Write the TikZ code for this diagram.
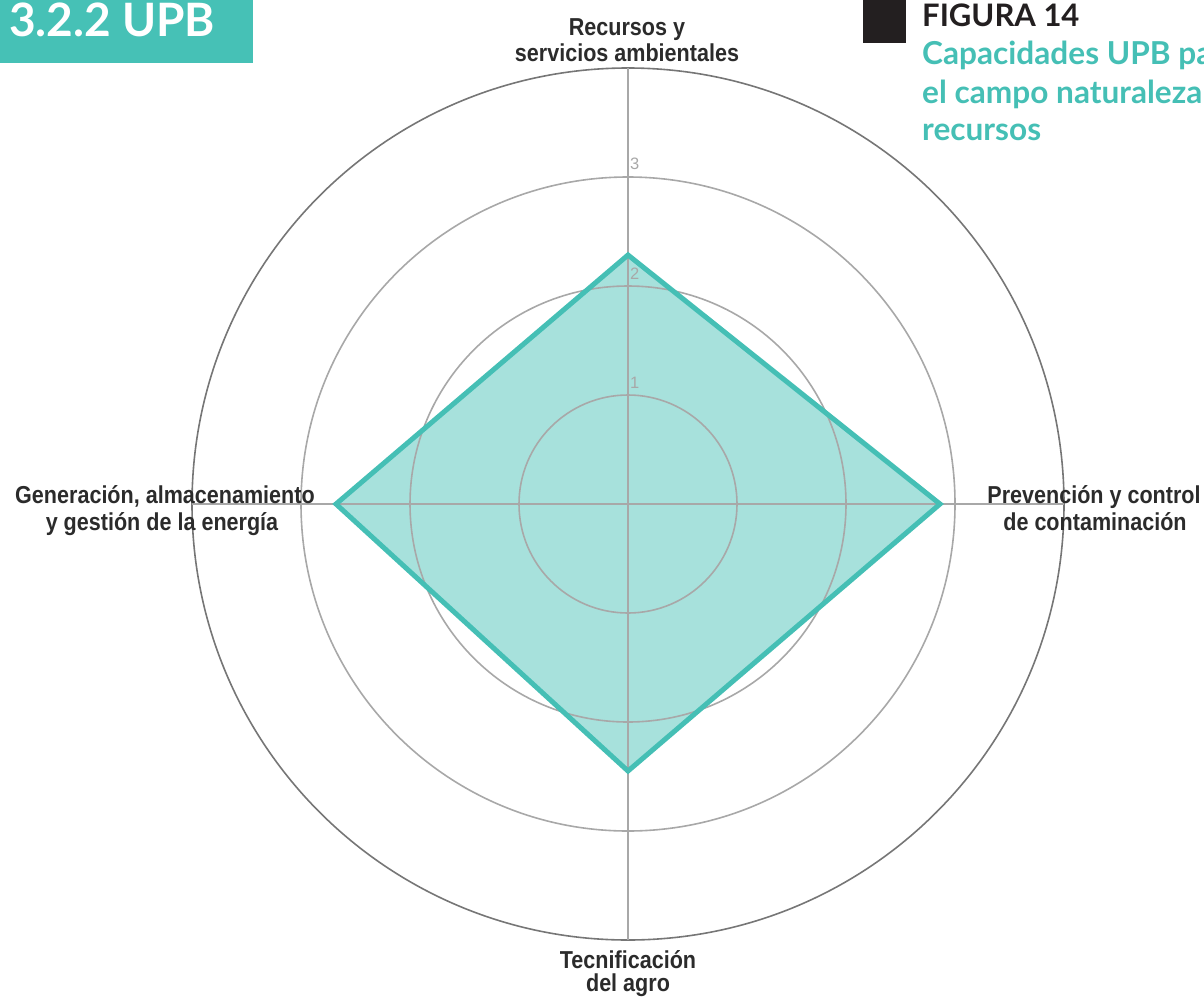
\documentclass[tikz,border=0pt]{standalone}
\usepackage{fontspec}
\newfontfamily\lato{Lato}
\newfontfamily\axisfont[FakeStretch=0.88]{Liberation Sans}
\newfontfamily\numfont{Liberation Sans}
\definecolor{teal1}{HTML}{45BFB5}
\definecolor{tealbox}{HTML}{46C1B6}
\definecolor{gridgray}{HTML}{A8A8A8}
\definecolor{outergray}{HTML}{767676}
\definecolor{labelgray}{HTML}{2B2B2B}
\definecolor{figblack}{HTML}{231F20}
\tikzset{
  gridline/.style={draw=gridgray, line width=1.6pt},
  outerline/.style={draw=outergray, line width=1.6pt},
  axislabel/.style={anchor=base, inner sep=0pt, text=labelgray, font=\axisfont\bfseries\fontsize{24.5}{26}\selectfont},
  ticklabel/.style={anchor=base west, inner sep=0pt, text=gridgray, font=\numfont\fontsize{16.5}{18}\selectfont},
  headteal/.style={anchor=base west, inner sep=0pt, text=teal1, font=\lato\bfseries\fontsize{31.6}{34}\selectfont},
}
\begin{document}
\begin{tikzpicture}[x=1pt,y=-1pt]
\useasboundingbox (0,0) rectangle (1204,996);
\clip (0,0) rectangle (1204,996);
\coordinate (c) at (628,504);
% radar polygon fill
\coordinate (pT) at (628,255);
\coordinate (pR) at (940,504);
\coordinate (pB) at (628,771);
\coordinate (pL) at (336,504);
\fill[teal1, fill opacity=0.47] (pT) -- (pR) -- (pB) -- (pL) -- cycle;
% grid
\draw[gridline] (c) circle[radius=109];
\draw[gridline] (c) circle[radius=218];
\draw[gridline] (c) circle[radius=327];
\draw[outerline] (c) circle[radius=436];
\coordinate (aT) at (628,68);
\coordinate (aB) at (628,940);
\coordinate (aL) at (192,504);
\coordinate (aR) at (1064,504);
\draw[gridline] (aT) -- (aB);
\draw[gridline] (aL) -- (aR);
% tick labels
\node[ticklabel] (t3) at (630,169) {3};
\node[ticklabel] (t2) at (630,279) {2};
\node[ticklabel] (t1) at (630,388) {1};
% radar outline
\draw[teal1, line width=5pt, line join=miter] (pT) -- (pR) -- (pB) -- (pL) -- cycle;
% axis labels
\node[axislabel] (lt1) at (627,35) {Recursos y};
\node[axislabel] (lt2) at (627,61) {servicios ambientales};
\node[axislabel] (ll1) at (165,503) {Generación, almacenamiento};
\node[axislabel] (ll2) at (162,530) {y gestión de la energía};
\node[axislabel] (lr1) at (1094,503) {Prevención y control};
\node[axislabel] (lr2) at (1095,530) {de contaminación};
\node[axislabel] (lb1) at (628,968) {Tecnificación};
\node[axislabel] (lb2) at (628,991) {del agro};
% title box
\fill[tealbox] (0,0) rectangle (253,63);
\node[anchor=base west, inner sep=0pt, text=white, font=\lato\bfseries\fontsize{46}{48}\selectfont] (title) at (9,36) {3.2.2 UPB};
% figure heading
\fill[figblack] (863,0) rectangle (906,43);
\node[anchor=base west, inner sep=0pt, text=figblack, font=\lato\bfseries\fontsize{31}{33}\selectfont] (fig) at (922,26) {FIGURA 14};
\node[headteal] (h1) at (922,64) {Capacidades UPB para};
\node[headteal] (h2) at (922,103) {el campo naturaleza y};
\node[headteal] (h3) at (922,140) {recursos};
\end{tikzpicture}
\end{document}
